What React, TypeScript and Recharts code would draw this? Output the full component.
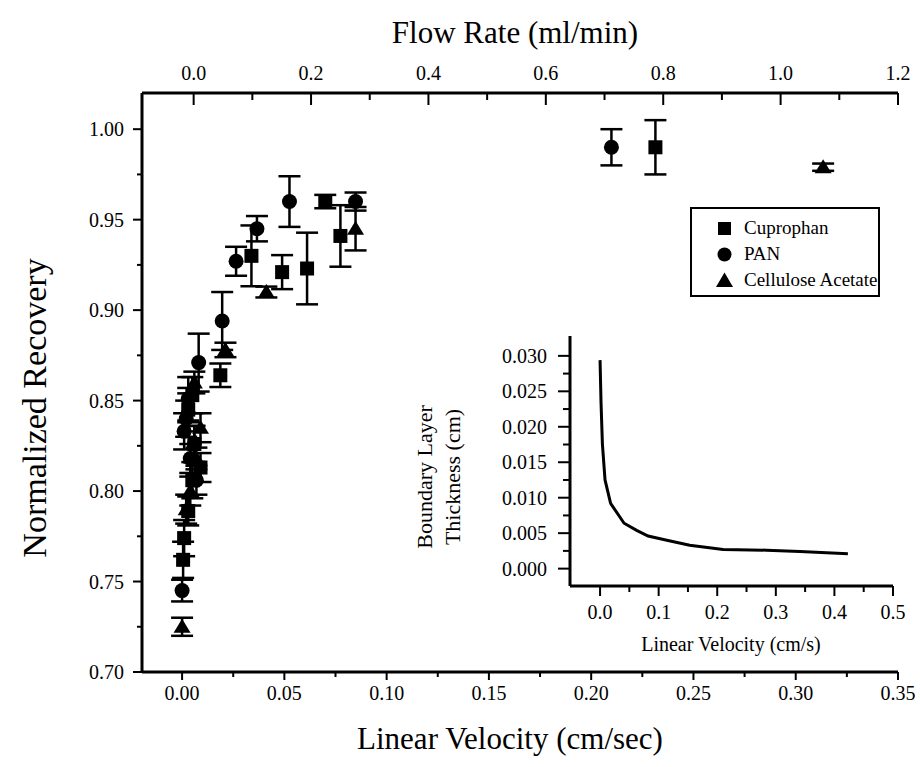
import React from 'react';
import { ScatterChart, Scatter, XAxis, YAxis, ErrorBar, Legend, LineChart, Line, Label } from 'recharts';

const FONT = "'Liberation Serif', 'Times New Roman', Times, serif";

// ---------- main chart data: Linear Velocity (cm/sec), Normalized Recovery, error ----------
const cuprophanVelocity = [0.0005, 0.001, 0.003, 0.005, 0.009, 0.006, 0.003, 0.005, 0.0187, 0.0339, 0.0489, 0.0611, 0.07, 0.0774, 0.2314];
const cuprophanRecovery = [0.762, 0.774, 0.789, 0.806, 0.813, 0.826, 0.845, 0.853, 0.864, 0.93, 0.921, 0.923, 0.96, 0.941, 0.99];
const cuprophanError = [0.01, 0.01, 0.008, 0.01, 0.008, 0.01, 0.012, 0.01, 0.0065, 0.0168, 0.0094, 0.0198, 0.0037, 0.017, 0.015];

const panVelocity = [0.0, 0.007, 0.004, 0.006, 0.001, 0.002, 0.003, 0.0081, 0.0196, 0.0264, 0.0366, 0.0525, 0.0848, 0.2099];
const panRecovery = [0.745, 0.806, 0.818, 0.826, 0.833, 0.84, 0.851, 0.871, 0.894, 0.927, 0.945, 0.96, 0.96, 0.99];
const panError = [0.006, 0.008, 0.008, 0.01, 0.01, 0.01, 0.012, 0.016, 0.016, 0.008, 0.007, 0.014, 0.005, 0.01];

const caVelocity = [0.0, 0.002, 0.004, 0.007, 0.009, 0.003, 0.006, 0.0212, 0.0412, 0.0848, 0.3134];
const caRecovery = [0.725, 0.79, 0.8, 0.818, 0.835, 0.846, 0.86, 0.878, 0.91, 0.945, 0.979];
const caError = [0.005, 0.008, 0.008, 0.006, 0.008, 0.008, 0.006, 0.004, 0.003, 0.012, 0.002];

// flow rates (ml/min, top axis) of the three high-flow points
const highFlowRates = [0.714, 0.789, 1.072];
const highFlowRecovery = [0.99, 0.99, 0.979];

const seriesNames = ['Cuprophan', 'PAN', 'Cellulose Acetate'];

// ---------- axis ticks ----------
const velocityTicks = [0, 0.025, 0.05, 0.075, 0.1, 0.125, 0.15, 0.175, 0.2, 0.225, 0.25, 0.275, 0.3, 0.325, 0.35];
const flowTicks = [0, 0.1, 0.2, 0.3, 0.4, 0.5, 0.6, 0.7, 0.8, 0.9, 1.0, 1.1, 1.2];
const recoveryTicks = [0.7, 0.725, 0.75, 0.775, 0.8, 0.825, 0.85, 0.875, 0.9, 0.925, 0.95, 0.975, 1.0];

// ---------- inset data: Linear Velocity (cm/s) vs Boundary Layer Thickness (cm) ----------
const insetVelocity = [0.0, 0.0017, 0.004, 0.0085, 0.018, 0.041, 0.0625, 0.082, 0.114, 0.153, 0.21, 0.284, 0.341, 0.423];
const insetThickness = [0.0294, 0.0233, 0.0176, 0.0125, 0.0092, 0.0064, 0.0054, 0.0046, 0.004, 0.0033, 0.0027, 0.0026, 0.0024, 0.0021];
const insetXTicks = [0, 0.05, 0.1, 0.15, 0.2, 0.25, 0.3, 0.35, 0.4, 0.45, 0.5];
const insetYTicks = [0, 0.0025, 0.005, 0.0075, 0.01, 0.0125, 0.015, 0.0175, 0.02, 0.0225, 0.025, 0.0275, 0.03];

const zip = (xs: number[], ys: number[], es: number[]) => xs.map((x, i) => ({ x, y: ys[i], e: es[i] }));
const cuprophanData = zip(cuprophanVelocity, cuprophanRecovery, cuprophanError);
const panData = zip(panVelocity, panRecovery, panError);
const caData = zip(caVelocity, caRecovery, caError);
const flowData = highFlowRates.map((f, i) => ({ f, y: highFlowRecovery[i] }));
const insetData = insetVelocity.map((v, i) => ({ v, t: insetThickness[i] }));

type TickOpts = {
  orient: 'bottom' | 'top' | 'left';
  step: number;
  major: number;
  minor: number;
  inward?: boolean;
  digits: number;
  fontSize: number;
  gap: number;
};

const makeTick = (o: TickOpts) => (props: any) => {
  const { x, y, payload } = props;
  const v = Number(payload.value);
  const r = v / o.step;
  const isMajor = Math.abs(r - Math.round(r)) < 1e-6;
  const len = isMajor ? o.major : o.minor;
  const s = o.inward ? -1 : 1;
  const label = v.toFixed(o.digits);
  const textStyle = { fontFamily: FONT, fontSize: o.fontSize, fill: '#000' };
  if (o.orient === 'bottom') {
    return (
      <g>
        <line x1={x} y1={y} x2={x} y2={y + s * len} stroke="#000" strokeWidth={2} />
        {isMajor && (
          <text x={x} y={y + o.gap} textAnchor="middle" style={textStyle}>{label}</text>
        )}
      </g>
    );
  }
  if (o.orient === 'top') {
    return (
      <g>
        <line x1={x} y1={y} x2={x} y2={y - s * len} stroke="#000" strokeWidth={2} />
        {isMajor && (
          <text x={x} y={y - o.gap} textAnchor="middle" style={textStyle}>{label}</text>
        )}
      </g>
    );
  }
  return (
    <g>
      <line x1={x} y1={y} x2={x - s * len} y2={y} stroke="#000" strokeWidth={2} />
      {isMajor && (
        <text x={x - o.gap} y={y} dy="0.35em" textAnchor="end" style={textStyle}>{label}</text>
      )}
    </g>
  );
};

const Square = (p: any) => <rect x={p.cx - 7} y={p.cy - 7} width={14} height={14} fill="#000" />;
const Dot = (p: any) => <circle cx={p.cx} cy={p.cy} r={7.5} fill="#000" />;
const Tri = (p: any) => (
  <polygon points={`${p.cx},${p.cy - 8} ${p.cx - 8.5},${p.cy + 6} ${p.cx + 8.5},${p.cy + 6}`} fill="#000" />
);
const Nothing = () => <g />;

const legendMarker = (name: string) => {
  if (name === seriesNames[0]) return <rect x={8} y={6} width={13} height={13} fill="#000" />;
  if (name === seriesNames[1]) return <circle cx={14.5} cy={12.5} r={7} fill="#000" />;
  return <polygon points="14.5,4.5 6,19 23,19" fill="#000" />;
};

const renderLegend = (props: any) => {
  const present = new Set((props.payload || []).map((it: any) => it.value));
  const names = seriesNames.filter((n) => present.has(n));
  return (
    <div
      style={{
        border: '2px solid #000',
        width: 190,
        height: 90,
        boxSizing: 'border-box',
        background: '#fff',
        paddingTop: 6,
        paddingLeft: 18,
      }}
    >
      {names.map((n) => (
        <div key={n} style={{ display: 'flex', alignItems: 'center', height: 26 }}>
          <svg width={34} height={25}>{legendMarker(n)}</svg>
          <span style={{ fontFamily: FONT, fontSize: 19, color: '#000', whiteSpace: 'nowrap' }}>{n}</span>
        </div>
      ))}
    </div>
  );
};

export default function App() {
  return (
    <div style={{ position: 'absolute', left: 0, top: 0, width: 920, height: 767, background: '#fff' }}>
      <ScatterChart width={920} height={767} margin={{ top: 13, right: 22, bottom: 15, left: 20 }}>
        <XAxis
          xAxisId="bottom"
          dataKey="x"
          type="number"
          domain={[-0.0196, 0.35]}
          allowDataOverflow
          ticks={velocityTicks}
          interval={0}
          height={80}
          tickSize={0}
          tickMargin={0}
          tickLine={false}
          axisLine={{ stroke: '#000', strokeWidth: 3 }}
          tick={makeTick({ orient: 'bottom', step: 0.05, major: 8, minor: 5, digits: 2, fontSize: 20, gap: 28 })}
        >
          <Label
            content={() => (
              <text x={510} y={749} textAnchor="middle" style={{ fontFamily: FONT, fontSize: 31, fill: '#000' }}>
                Linear Velocity (cm/sec)
              </text>
            )}
          />
        </XAxis>
        <XAxis
          xAxisId="top"
          orientation="top"
          dataKey="f"
          type="number"
          domain={[-0.088, 1.2]}
          allowDataOverflow
          ticks={flowTicks}
          interval={0}
          height={80}
          tickSize={0}
          tickMargin={0}
          tickLine={false}
          axisLine={{ stroke: '#000', strokeWidth: 3 }}
          tick={makeTick({ orient: 'top', step: 0.2, major: 12, minor: 7, inward: true, digits: 1, fontSize: 20, gap: 13 })}
        >
          <Label
            content={() => (
              <text x={515} y={43} textAnchor="middle" style={{ fontFamily: FONT, fontSize: 31, fill: '#000' }}>
                Flow Rate (ml/min)
              </text>
            )}
          />
        </XAxis>
        <YAxis
          dataKey="y"
          type="number"
          domain={[0.7, 1.02]}
          allowDataOverflow
          ticks={recoveryTicks}
          interval={0}
          width={122}
          tickSize={0}
          tickMargin={0}
          tickLine={false}
          axisLine={{ stroke: '#000', strokeWidth: 3 }}
          tick={makeTick({ orient: 'left', step: 0.05, major: 9, minor: 5, digits: 2, fontSize: 20, gap: 18 })}
        >
          <Label
            content={() => (
              <text
                x={46}
                y={408}
                textAnchor="middle"
                transform="rotate(-90 46 408)"
                style={{ fontFamily: FONT, fontSize: 34, fill: '#000' }}
              >
                Normalized Recovery
              </text>
            )}
          />
        </YAxis>
        <Scatter name="flow" data={flowData} xAxisId="top" shape={Nothing} legendType="none" isAnimationActive={false} />
        <Scatter name={seriesNames[0]} data={cuprophanData} xAxisId="bottom" shape={Square} fill="#000" isAnimationActive={false}>
          <ErrorBar dataKey="e" direction="y" width={11} stroke="#000" strokeWidth={2.5} isAnimationActive={false} />
        </Scatter>
        <Scatter name={seriesNames[1]} data={panData} xAxisId="bottom" shape={Dot} fill="#000" isAnimationActive={false}>
          <ErrorBar dataKey="e" direction="y" width={11} stroke="#000" strokeWidth={2.5} isAnimationActive={false} />
        </Scatter>
        <Scatter name={seriesNames[2]} data={caData} xAxisId="bottom" shape={Tri} fill="#000" isAnimationActive={false}>
          <ErrorBar dataKey="e" direction="y" width={11} stroke="#000" strokeWidth={2.5} isAnimationActive={false} />
        </Scatter>
        <Legend
          layout="vertical"
          align="center"
          verticalAlign="middle"
          content={renderLegend}
          wrapperStyle={{ position: 'absolute', left: 690, top: 207, width: 190, height: 90 }}
        />
      </ScatterChart>

      <div style={{ position: 'absolute', left: 400, top: 320, width: 510, height: 345 }}>
        <LineChart width={510} height={345} data={insetData} margin={{ top: 16, right: 17, bottom: 19, left: 20 }}>
          <XAxis
            dataKey="v"
            type="number"
            domain={[-0.0513, 0.5]}
            allowDataOverflow
            ticks={insetXTicks}
            interval={0}
            height={60}
            tickSize={0}
            tickMargin={0}
            tickLine={false}
            axisLine={{ stroke: '#000', strokeWidth: 3 }}
            tick={makeTick({ orient: 'bottom', step: 0.1, major: 10, minor: 6, digits: 1, fontSize: 20, gap: 33 })}
          >
            <Label
              content={() => (
                <text x={331} y={331} textAnchor="middle" style={{ fontFamily: FONT, fontSize: 20, fill: '#000' }}>
                  Linear Velocity (cm/s)
                </text>
              )}
            />
          </XAxis>
          <YAxis
            dataKey="t"
            type="number"
            domain={[-0.00245, 0.0328]}
            allowDataOverflow
            ticks={insetYTicks}
            interval={0}
            width={150}
            tickSize={0}
            tickMargin={0}
            tickLine={false}
            axisLine={{ stroke: '#000', strokeWidth: 3 }}
            tick={makeTick({ orient: 'left', step: 0.005, major: 12, minor: 7, digits: 3, fontSize: 20, gap: 23 })}
          >
            <Label
              content={() => (
                <g style={{ fontFamily: FONT, fontSize: 22, fill: '#000' }}>
                  <text x={32} y={157} textAnchor="middle" transform="rotate(-90 32 157)">Boundary Layer</text>
                  <text x={60} y={157} textAnchor="middle" transform="rotate(-90 60 157)">Thickness (cm)</text>
                </g>
              )}
            />
          </YAxis>
          <Line dataKey="t" type="linear" stroke="#000" strokeWidth={3} dot={false} isAnimationActive={false} />
        </LineChart>
      </div>
    </div>
  );
}
